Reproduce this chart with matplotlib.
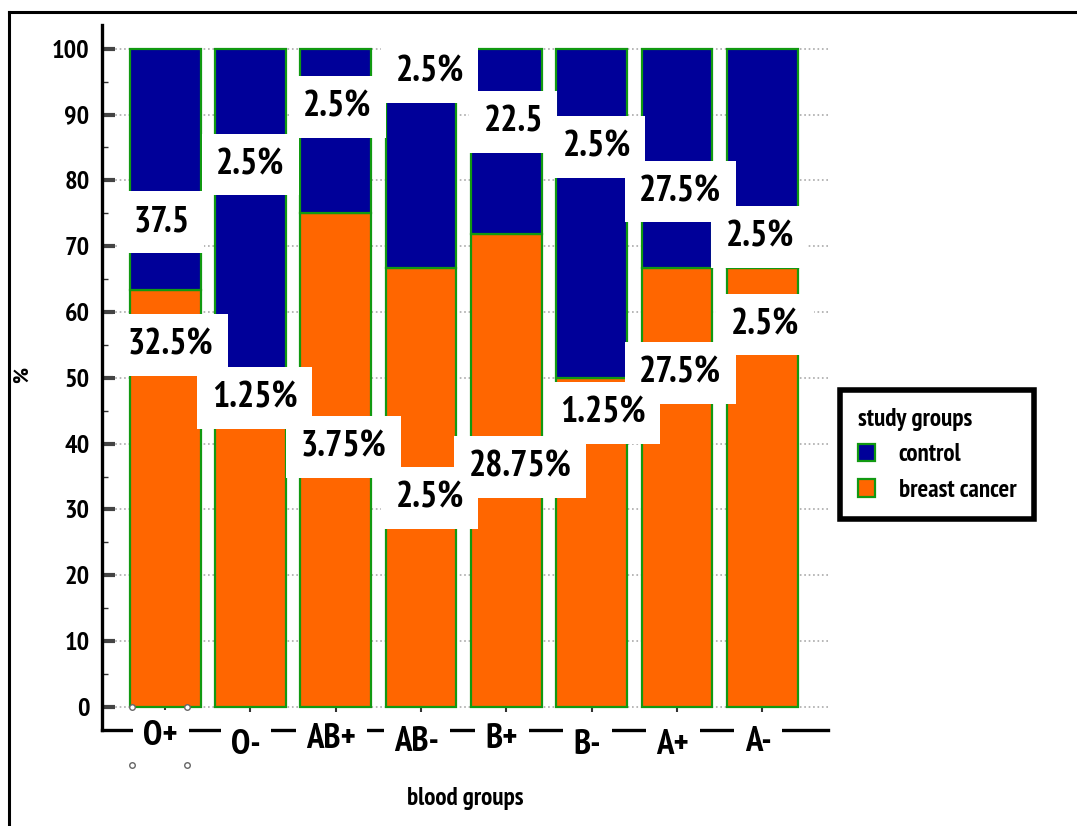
import matplotlib.pyplot as plt
from matplotlib.patches import Patch
from matplotlib.lines import Line2D
import numpy as np

# blood groups and percentages within each study group
blood_groups = ['O+', 'O-', 'AB+', 'AB-', 'B+', 'B-', 'A+', 'A-']
control_pct = [37.5, 2.5, 2.5, 2.5, 22.5, 2.5, 27.5, 2.5]
cancer_pct = [32.5, 1.25, 3.75, 2.5, 28.75, 1.25, 27.5, 2.5]
control_suffix = ['', '%', '%', '%', '', '%', '%', '%']
n_control = 40
n_cancer = 80

# counts -> share of each blood group (100% stacked)
control_n = np.array(control_pct) / 100 * n_control
cancer_n = np.array(cancer_pct) / 100 * n_cancer
total_n = control_n + cancer_n
cancer_share = cancer_n / total_n * 100
control_share = control_n / total_n * 100

# label placement (x offset from bar centre, y in data units)
ctrl_lab_dx = [-0.04, 0.0, 0.02, 0.1, 0.08, 0.06, 0.04, -0.03]
ctrl_lab_y = [73.7, 82.4, 91.2, 96.4, 88.9, 85.1, 78.3, 71.4]
canc_lab_dx = [0.06, 0.05, 0.09, 0.1, 0.16, 0.13, 0.04, 0.03]
canc_lab_y = [55.0, 47.0, 39.5, 31.8, 36.5, 44.7, 50.8, 58.1]

navy = '#000099'
orange = '#FF6600'
green = '#119911'
FONT = ['PT Sans Narrow', 'DejaVu Sans']
plt.rcParams['font.family'] = FONT

fig = plt.figure(figsize=(10.77, 8.26), dpi=100)
ax = fig.add_axes([102 / 1077, 96 / 826, (828 - 102) / 1077, (730 - 25) / 826])

x = np.arange(len(blood_groups))
ax.bar(x, cancer_share, width=0.83, color=orange, edgecolor=green, linewidth=1.6, zorder=2)
ax.bar(x, control_share, width=0.83, bottom=cancer_share, color=navy,
       edgecolor=green, linewidth=1.6, zorder=2)

# value labels: white boxes first, then the text on top of all boxes
box = dict(boxstyle='square,pad=0.4', facecolor='white', edgecolor='none')
labels = []
for i in range(len(x)):
    labels.append((x[i] + ctrl_lab_dx[i], ctrl_lab_y[i], f'{control_pct[i]:g}{control_suffix[i]}'))
    labels.append((x[i] + canc_lab_dx[i], canc_lab_y[i], f'{cancer_pct[i]:g}%'))
for lx, ly, s in labels:
    ax.text(lx, ly, s, ha='center', va='center', fontsize=26, fontweight='bold',
            color='none', bbox=box, zorder=4)
for lx, ly, s in labels:
    ax.text(lx, ly, s, ha='center', va='center', fontsize=26, fontweight='bold',
            color='black', zorder=5)

ax.set_xlim(-0.74, 7.77)
ax.set_ylim(-3.5, 103.6)

# y axis
ax.set_yticks(np.arange(0, 101, 10))
ax.set_yticks(np.arange(5, 100, 10), minor=True)
ax.tick_params(axis='y', which='major', direction='in', length=9, width=3,
               color='#444444', pad=9, labelsize=19)
ax.tick_params(axis='y', which='minor', direction='in', length=4, width=1, color='#333333')
for lab in ax.get_yticklabels():
    lab.set_fontweight('bold')
ax.yaxis.grid(True, linestyle=':', color='#aaaaaa', linewidth=1.2)
ax.set_axisbelow(True)

# x axis: small marks at zero, labels boxed over the baseline
ax.set_xticks([])
ax.vlines(x, -0.8, 0, color='#333333', linewidth=1.5, zorder=1)
xlab_y = [-4.4, -5.8, -4.8, -5.3, -4.8, -5.8, -5.8, -5.3]
for i, g in enumerate(blood_groups):
    ax.text(x[i] - 0.05, xlab_y[i], g, ha='center', va='center', fontsize=25, fontweight='bold',
            bbox=dict(boxstyle='square,pad=0.3', facecolor='white', edgecolor='none'),
            clip_on=False, zorder=6)

for side in ['top', 'right']:
    ax.spines[side].set_visible(False)
for side in ['left', 'bottom']:
    ax.spines[side].set_linewidth(2.4)
    ax.spines[side].set_color('black')

fig.text(465 / 1077, 1 - 798 / 826, 'blood groups', ha='center', va='center',
         fontsize=18, fontweight='bold')
fig.text(22 / 1077, 1 - 375 / 826, '%', ha='center', va='center', rotation=90,
         fontsize=16, fontweight='bold')

handles = [Patch(facecolor=navy, edgecolor=green, linewidth=1.6, label='control'),
           Patch(facecolor=orange, edgecolor=green, linewidth=1.6, label='breast cancer')]
leg = fig.legend(handles=handles, title='study groups', loc='upper left',
                 bbox_to_anchor=(840 / 1077, 1 - 390 / 826), frameon=True, fancybox=False,
                 framealpha=1, edgecolor='black',
                 prop={'size': 18, 'weight': 'bold'}, title_fontproperties={'size': 18, 'weight': 'bold'},
                 alignment='left', handlelength=0.7, handleheight=0.7, handletextpad=0.95,
                 borderpad=0.7, labelspacing=0.5, borderaxespad=0)
leg.get_frame().set_linewidth(4)

# page frame
fig.add_artist(Line2D([9 / 1077, 9 / 1077], [0, 1 - 12 / 826], color='black', linewidth=2.2))
fig.add_artist(Line2D([9 / 1077, 1], [1 - 12 / 826, 1 - 12 / 826], color='black', linewidth=2.2))

# selection handles left on the first bar
for px, py in [(132, 707), (187, 707), (132, 765), (187, 765)]:
    fig.add_artist(Line2D([px / 1077], [1 - py / 826], marker='o', markersize=4,
                          markerfacecolor='white', markeredgecolor='#666666', linestyle='none'))

fig.savefig('out.png', dpi=100, facecolor='white')
